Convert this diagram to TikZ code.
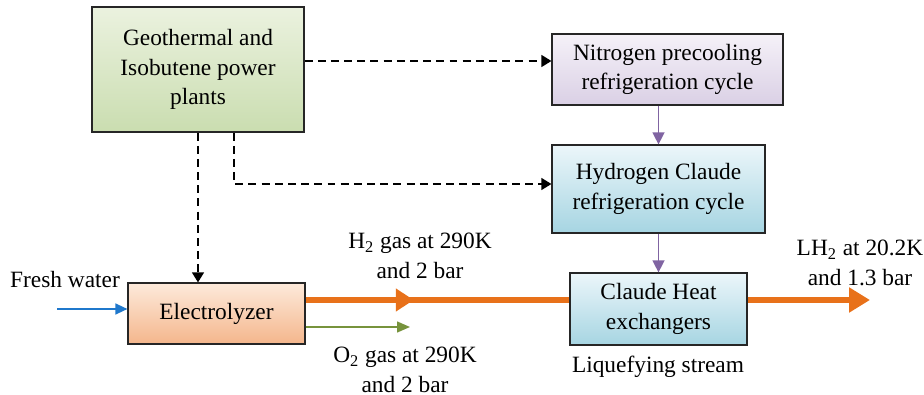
\documentclass[tikz,border=0pt]{standalone}
\usepackage{fontspec}
\setmainfont{Liberation Serif}
\usetikzlibrary{arrows.meta,decorations.markings}

\definecolor{geotop}{HTML}{EBF2DF}
\definecolor{geobot}{HTML}{CADDB0}
\definecolor{nitop}{HTML}{F5F1F8}
\definecolor{nibot}{HTML}{DAD0E5}
\definecolor{hytop}{HTML}{ECF6FA}
\definecolor{hybot}{HTML}{A6D5E2}
\definecolor{eltop}{HTML}{FDEADB}
\definecolor{elbot}{HTML}{F4B68C}
\definecolor{hflow}{HTML}{E8711A}
\definecolor{oflow}{HTML}{77933C}
\definecolor{wflow}{HTML}{1F78CC}
\definecolor{cflow}{HTML}{8064A2}

\begin{document}
\begin{tikzpicture}[x=0.02cm,y=-0.02cm,>={Triangle[length=0.2cm,width=0.24cm]},
    font=\fontsize{13.3}{16.8}\selectfont]
  \tikzstyle{unit}=[draw=black!85,line width=0.7pt,align=center,inner sep=0pt]
  \tikzstyle{power}=[->,dashed,dash pattern=on 4.5pt off 3pt,line width=0.7pt]
  \tikzstyle{cool}=[->,draw=cflow,line width=0.8pt,
      >={Triangle[length=0.24cm,width=0.24cm]}]
  \tikzstyle{lbl}=[align=center,inner sep=0pt]

  \useasboundingbox (0,0) rectangle (924,395);

  \node[unit,top color=geotop,bottom color=geobot,
        minimum width=4.24cm,minimum height=2.5cm] (geo) at (198,69.5)
        {Geothermal and\\Isobutene power\\plants};
  \node[unit,top color=nitop,bottom color=nibot,
        minimum width=4.62cm,minimum height=1.42cm] (ni) at (667.5,69.5)
        {Nitrogen precooling\\refrigeration cycle};
  \node[unit,top color=hytop,bottom color=hybot,
        minimum width=4.26cm,minimum height=1.76cm] (hy) at (658.5,189)
        {Hydrogen Claude\\refrigeration cycle};
  \node[unit,top color=hytop,bottom color=hybot,
        minimum width=3.54cm,minimum height=1.44cm] (cl) at (658.5,309)
        {Claude Heat\\exchangers};
  \node[unit,top color=eltop,bottom color=elbot,
        minimum width=3.54cm,minimum height=1.22cm] (el) at (216.5,313.5)
        {Electrolyzer};

  \coordinate (fw)  at (57,309);
  \coordinate (lh2) at (870,300);
  \coordinate (o2)  at (410,327);

  % power supply
  \draw[power] ([yshift=0.17cm]geo.east) -- ([yshift=0.17cm]ni.west);
  \draw[power] (geo.south) -- (geo.south |- el.north);
  \draw[power] ([xshift=0.72cm]geo.south) |- ([yshift=0.1cm]hy.west);

  % cooling
  \draw[cool] (hy.north |- ni.south) -- (hy.north);
  \draw[cool] (hy.south) -- (cl.north);

  % streams
  \draw[->,draw=wflow,line width=0.8pt,>={Triangle[length=0.24cm,width=0.22cm]},
        wflow] (fw) -- (el.west |- fw);
  \draw[draw=hflow,line width=0.14cm,
        postaction={decorate},
        decoration={markings,mark=at position 0.41 with
          {\arrow[hflow]{Triangle[length=0.36cm,width=0.44cm]}}}]
        (el.east |- lh2) -- (cl.west |- lh2);
  \draw[draw=hflow,line width=0.14cm,
        -{Triangle[length=0.42cm,width=0.48cm]},hflow]
        (cl.east |- lh2) -- (lh2);
  \draw[->,draw=oflow,line width=0.8pt,>={Triangle[length=0.26cm,width=0.22cm]},
        oflow] (el.east |- o2) -- (o2);

  % labels
  \node[lbl] (lfw) at (65,280) {Fresh water};
  \node[lbl] (lh)  at (420,256) {H\textsubscript{2} gas at 290K\\and 2 bar};
  \node[lbl] (lo)  at (405,370) {O\textsubscript{2} gas at 290K\\and 2 bar};
  \node[lbl] (ll)  at (860,263) {LH\textsubscript{2} at 20.2K\\and 1.3 bar};
  \node[lbl] (ls)  at (658,367) {Liquefying stream};
\end{tikzpicture}
\end{document}
